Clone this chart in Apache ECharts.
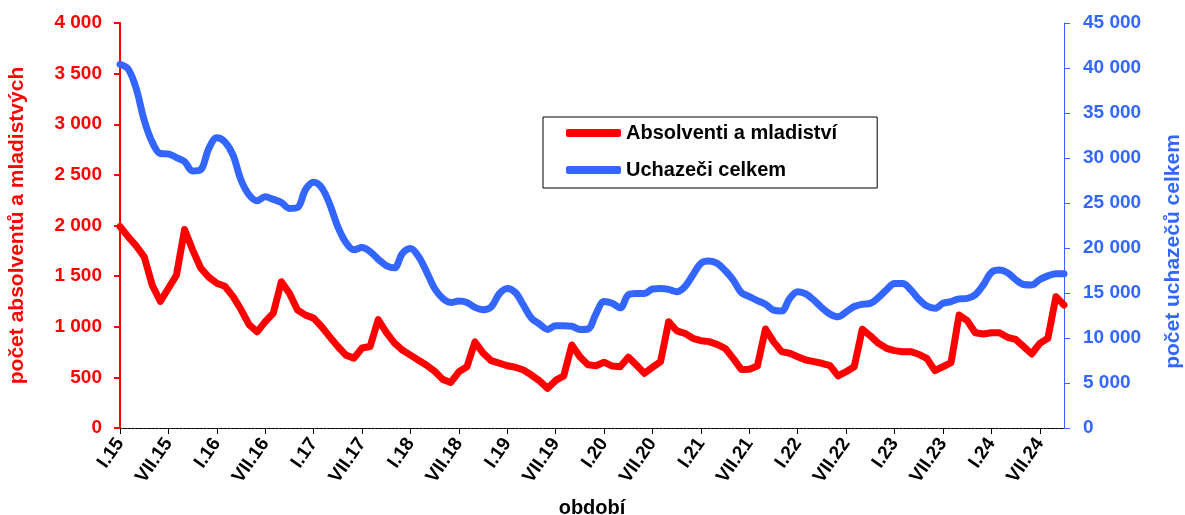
<!DOCTYPE html>
<html lang="cs">
<head>
<meta charset="UTF-8">
<title>Absolventi a mladiství</title>
<script src="https://cdn.jsdelivr.net/npm/echarts@6/dist/echarts.min.js"></script>
<style>
  html, body { margin: 0; padding: 0; background: #fff; }
  #chart { width: 1185px; height: 515px; }
</style>
</head>
<body>
<div id="chart"></div>
<script>
// months I.15 .. X.24
var romans = ['I', 'II', 'III', 'IV', 'V', 'VI', 'VII', 'VIII', 'IX', 'X', 'XI', 'XII'];
var years = ['15', '16', '17', '18', '19', '20', '21', '22', '23', '24'];
var lastMonthCount = 10; // 2024 ends with X.24

var categories = [];
years.forEach(function (y, yi) {
    var n = yi === years.length - 1 ? lastMonthCount : 12;
    for (var m = 0; m < n; m++) categories.push(romans[m] + '.' + y);
});

// absolventi a mladistvi (left axis)
var absolventi = [
    1990, 1890, 1800, 1690, 1410, 1250, 1380, 1510, 1960, 1760, 1580, 1490,
    1430, 1400, 1300, 1170, 1020, 950, 1050, 1135, 1445, 1330, 1165, 1115,
    1085, 1000, 900, 805, 720, 690, 790, 805, 1070, 945, 840, 770,
    720, 670, 620, 560, 480, 450, 555, 605, 850, 740, 665, 640,
    615, 600, 573, 523, 465, 392, 470, 515, 820, 704, 625, 615,
    650, 612, 605, 700, 622, 540, 600, 655, 1050, 960, 935, 886,
    862, 853, 826, 787, 688, 579, 580, 612, 978, 853, 754, 738,
    704, 672, 655, 639, 616, 514, 556, 605, 975, 910, 836, 787,
    764, 754, 754, 728, 688, 566, 605, 645, 1116, 1060, 941, 928,
    941, 941, 896, 876, 803, 731, 836, 886, 1297, 1215
];

// uchazeci celkem (right axis)
var uchazeci = [
    40400, 39900, 37750, 34200, 31750, 30500, 30450, 30050, 29600, 28550, 28700, 31050,
    32250, 31800, 30350, 27550, 25900, 25250, 25700, 25400, 25050, 24400, 24500, 26500,
    27300, 26700, 24850, 22350, 20600, 19800, 20050, 19600, 18750, 18050, 17800, 19400,
    19950, 19050, 17350, 15500, 14400, 13950, 14100, 13950, 13400, 13150, 13450, 14900,
    15500, 15050, 13650, 12200, 11550, 10950, 11350, 11350, 11300, 10950, 11000, 12700,
    14050, 13850, 13350, 14800, 14950, 14950, 15450, 15500, 15400, 15150, 15700, 17000,
    18300, 18550, 18300, 17500, 16450, 15050, 14600, 14150, 13750, 13100, 13000, 14400,
    15150, 14900, 14200, 13350, 12650, 12350, 12900, 13500, 13750, 13850, 14500, 15350,
    16050, 16050, 15350, 14300, 13550, 13300, 13850, 14050, 14350, 14400, 14800, 15900,
    17300, 17550, 17250, 16500, 15950, 15900, 16500, 16900, 17150, 17150
];

var RED = '#ff0000';
var BLUE = '#3366ff';
var FONT = 'Liberation Sans';

function spaced(v) {
    return String(v).replace(/\B(?=(\d{3})+(?!\d))/g, ' ');
}

var chart = echarts.init(document.getElementById('chart'));

chart.setOption({
    animation: false,
    backgroundColor: '#fff',
    textStyle: { fontFamily: FONT },
    grid: { left: 120, right: 121, top: 23, bottom: 87, outerBoundsMode: 'none' },
    legend: {
        orient: 'vertical',
        left: 543,
        top: 117,
        padding: [6, 40, 8, 23],
        itemGap: 17,
        itemWidth: 55,
        itemHeight: 8,
        icon: 'roundRect',
        borderColor: '#000',
        borderWidth: 1,
        textStyle: { fontFamily: FONT, fontSize: 20, fontWeight: 'bold', color: '#000' },
        data: ['Absolventi a mladiství', 'Uchazeči celkem']
    },
    xAxis: [{
        type: 'category',
        data: categories,
        boundaryGap: false,
        name: 'období',
        nameLocation: 'middle',
        nameGap: 70,
        nameTextStyle: { fontFamily: FONT, fontSize: 20, fontWeight: 'bold', color: '#000' },
        axisLine: { lineStyle: { color: '#333', width: 1, type: [2, 1] } },
        axisTick: { interval: 5, length: 6, lineStyle: { color: '#000' } },
        axisLabel: {
            interval: 5,
            rotate: 55,
            margin: 12,
            fontFamily: FONT,
            fontSize: 19,
            fontWeight: 'bold',
            color: '#000'
        }
    }, {
        type: 'category',
        data: categories,
        boundaryGap: false,
        position: 'top',
        axisLine: { lineStyle: { color: '#000', width: 1, type: [2, 2] } },
        axisTick: { show: false },
        axisLabel: { show: false }
    }],
    yAxis: [{
        type: 'value',
        min: 0,
        max: 4000,
        interval: 500,
        position: 'left',
        name: 'počet absolventů a mladistvých',
        nameLocation: 'middle',
        nameGap: 92,
        nameTextStyle: { fontFamily: FONT, fontSize: 21, fontWeight: 'bold', color: RED },
        axisLine: { show: true, lineStyle: { color: RED, width: 2 } },
        axisTick: { show: true, length: 6, lineStyle: { color: RED, width: 2 } },
        splitLine: { show: false },
        axisLabel: {
            margin: 18,
            fontFamily: FONT,
            fontSize: 19,
            fontWeight: 'bold',
            color: RED,
            formatter: spaced
        }
    }, {
        type: 'value',
        min: 0,
        max: 45000,
        interval: 5000,
        position: 'right',
        name: 'počet uchazečů celkem',
        nameLocation: 'middle',
        nameGap: 99,
        nameTextStyle: {
            fontFamily: FONT, fontSize: 21, fontWeight: 'bold', color: BLUE,
            padding: [0, 52, 0, 0]
        },
        axisLine: { show: true, lineStyle: { color: BLUE, width: 1 } },
        axisTick: { show: true, length: 6, lineStyle: { color: BLUE, width: 1 } },
        splitLine: { show: false },
        axisLabel: {
            margin: 19,
            fontFamily: FONT,
            fontSize: 19,
            fontWeight: 'bold',
            color: BLUE,
            formatter: spaced
        }
    }],
    series: [{
        name: 'Uchazeči celkem',
        type: 'line',
        xAxisIndex: 0,
        yAxisIndex: 1,
        data: uchazeci,
        smooth: 0.35,
        symbol: 'none',
        itemStyle: { color: BLUE },
        lineStyle: { color: BLUE, width: 7, cap: 'round', join: 'round' }
    }, {
        name: 'Absolventi a mladiství',
        type: 'line',
        xAxisIndex: 0,
        yAxisIndex: 0,
        data: absolventi,
        smooth: false,
        symbol: 'none',
        itemStyle: { color: RED },
        lineStyle: { color: RED, width: 7, cap: 'round', join: 'round' }
    }]
});
</script>
</body>
</html>
